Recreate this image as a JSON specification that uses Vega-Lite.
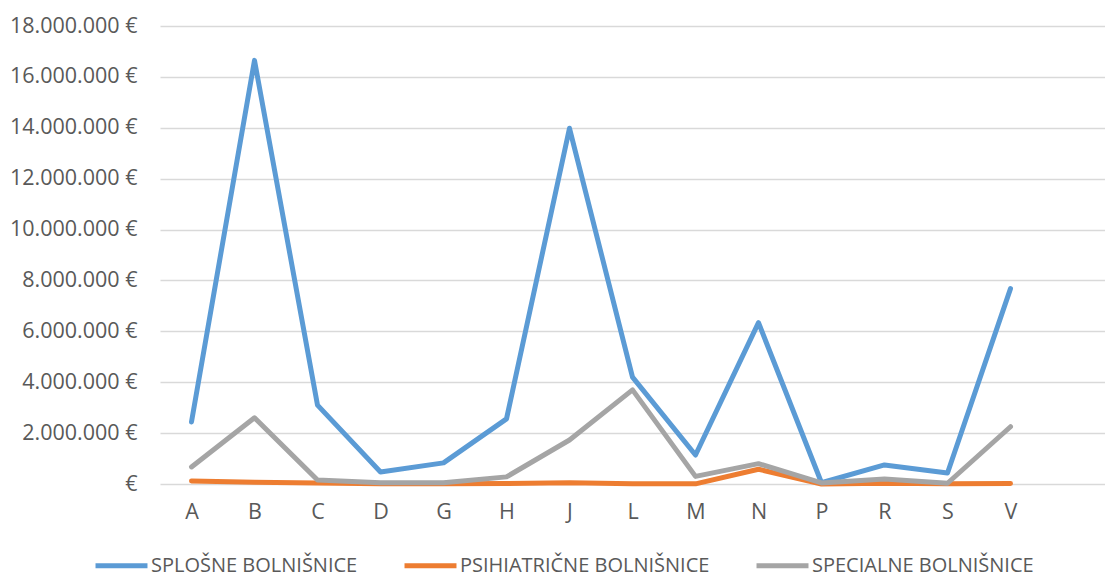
{
  "$schema": "https://vega.github.io/schema/vega-lite/v6.json",
  "width": 945,
  "height": 458,
  "autosize": "none",
  "padding": {"left": 160, "top": 26, "right": 0, "bottom": 92},
  "background": "white",
  "data": {
    "values": [
      {"k": "A", "s": "SPLOŠNE BOLNIŠNICE", "v": 2440000},
      {"k": "B", "s": "SPLOŠNE BOLNIŠNICE", "v": 16650000},
      {"k": "C", "s": "SPLOŠNE BOLNIŠNICE", "v": 3100000},
      {"k": "D", "s": "SPLOŠNE BOLNIŠNICE", "v": 470000},
      {"k": "G", "s": "SPLOŠNE BOLNIŠNICE", "v": 830000},
      {"k": "H", "s": "SPLOŠNE BOLNIŠNICE", "v": 2560000},
      {"k": "J", "s": "SPLOŠNE BOLNIŠNICE", "v": 13980000},
      {"k": "L", "s": "SPLOŠNE BOLNIŠNICE", "v": 4200000},
      {"k": "M", "s": "SPLOŠNE BOLNIŠNICE", "v": 1140000},
      {"k": "N", "s": "SPLOŠNE BOLNIŠNICE", "v": 6340000},
      {"k": "P", "s": "SPLOŠNE BOLNIŠNICE", "v": 50000},
      {"k": "R", "s": "SPLOŠNE BOLNIŠNICE", "v": 750000},
      {"k": "S", "s": "SPLOŠNE BOLNIŠNICE", "v": 430000},
      {"k": "V", "s": "SPLOŠNE BOLNIŠNICE", "v": 7680000},
      {"k": "A", "s": "PSIHIATRIČNE BOLNIŠNICE", "v": 120000},
      {"k": "B", "s": "PSIHIATRIČNE BOLNIŠNICE", "v": 70000},
      {"k": "C", "s": "PSIHIATRIČNE BOLNIŠNICE", "v": 40000},
      {"k": "D", "s": "PSIHIATRIČNE BOLNIŠNICE", "v": 10000},
      {"k": "G", "s": "PSIHIATRIČNE BOLNIŠNICE", "v": 10000},
      {"k": "H", "s": "PSIHIATRIČNE BOLNIŠNICE", "v": 20000},
      {"k": "J", "s": "PSIHIATRIČNE BOLNIŠNICE", "v": 50000},
      {"k": "L", "s": "PSIHIATRIČNE BOLNIŠNICE", "v": 5000},
      {"k": "M", "s": "PSIHIATRIČNE BOLNIŠNICE", "v": 5000},
      {"k": "N", "s": "PSIHIATRIČNE BOLNIŠNICE", "v": 580000},
      {"k": "P", "s": "PSIHIATRIČNE BOLNIŠNICE", "v": 0},
      {"k": "R", "s": "PSIHIATRIČNE BOLNIŠNICE", "v": 30000},
      {"k": "S", "s": "PSIHIATRIČNE BOLNIŠNICE", "v": 5000},
      {"k": "V", "s": "PSIHIATRIČNE BOLNIŠNICE", "v": 20000},
      {"k": "A", "s": "SPECIALNE BOLNIŠNICE", "v": 670000},
      {"k": "B", "s": "SPECIALNE BOLNIŠNICE", "v": 2600000},
      {"k": "C", "s": "SPECIALNE BOLNIŠNICE", "v": 160000},
      {"k": "D", "s": "SPECIALNE BOLNIŠNICE", "v": 50000},
      {"k": "G", "s": "SPECIALNE BOLNIŠNICE", "v": 50000},
      {"k": "H", "s": "SPECIALNE BOLNIŠNICE", "v": 280000},
      {"k": "J", "s": "SPECIALNE BOLNIŠNICE", "v": 1730000},
      {"k": "L", "s": "SPECIALNE BOLNIŠNICE", "v": 3700000},
      {"k": "M", "s": "SPECIALNE BOLNIŠNICE", "v": 300000},
      {"k": "N", "s": "SPECIALNE BOLNIŠNICE", "v": 800000},
      {"k": "P", "s": "SPECIALNE BOLNIŠNICE", "v": 40000},
      {"k": "R", "s": "SPECIALNE BOLNIŠNICE", "v": 200000},
      {"k": "S", "s": "SPECIALNE BOLNIŠNICE", "v": 30000},
      {"k": "V", "s": "SPECIALNE BOLNIŠNICE", "v": 2250000}
    ]
  },
  "mark": {"type": "line", "strokeWidth": 5, "strokeCap": "round", "strokeJoin": "round"},
  "encoding": {
    "x": {
      "field": "k",
      "type": "nominal",
      "sort": null,
      "scale": {"type": "point", "padding": 0.5, "domain": ["A", "B", "C", "D", "G", "H", "J", "L", "M", "N", "P", "R", "S", "V", " "]},
      "axis": {
        "title": null,
        "labelAngle": 0,
        "domain": false,
        "ticks": false,
        "grid": false,
        "labelPadding": 17,
        "labelFontSize": 21.5,
        "labelFont": "Open Sans",
        "labelColor": "#595959"
      }
    },
    "y": {
      "field": "v",
      "type": "quantitative",
      "scale": {"domain": [0, 18000000], "nice": false, "zero": true},
      "axis": {
        "title": null,
        "values": [0, 2000000, 4000000, 6000000, 8000000, 10000000, 12000000, 14000000, 16000000, 18000000],
        "labelExpr": "datum.value === 0 ? '€' : replace(format(datum.value, ','), regexp(',', 'g'), '.') + ' €'",
        "domain": false,
        "ticks": false,
        "grid": true,
        "gridColor": "#D9D9D9",
        "gridWidth": 1.5,
        "labelPadding": 23,
        "labelFontSize": 21.5,
        "labelFont": "Open Sans",
        "labelColor": "#595959"
      }
    },
    "color": {
      "field": "s",
      "type": "nominal",
      "scale": {
        "domain": ["SPLOŠNE BOLNIŠNICE", "PSIHIATRIČNE BOLNIŠNICE", "SPECIALNE BOLNIŠNICE"],
        "range": ["#5B9BD5", "#ED7D31", "#A5A5A5"]
      },
      "legend": {
        "title": null,
        "orient": "none",
        "direction": "horizontal",
        "legendX": -67,
        "legendY": 511,
        "symbolType": "stroke",
        "symbolSize": 2700,
        "symbolStrokeWidth": 5,
        "labelFontSize": 20,
        "labelFont": "Open Sans",
        "labelColor": "#595959",
        "labelOffset": 1,
        "columnPadding": 36,
        "labelLimit": 400
      }
    }
  },
  "config": {"view": {"stroke": null}}
}
